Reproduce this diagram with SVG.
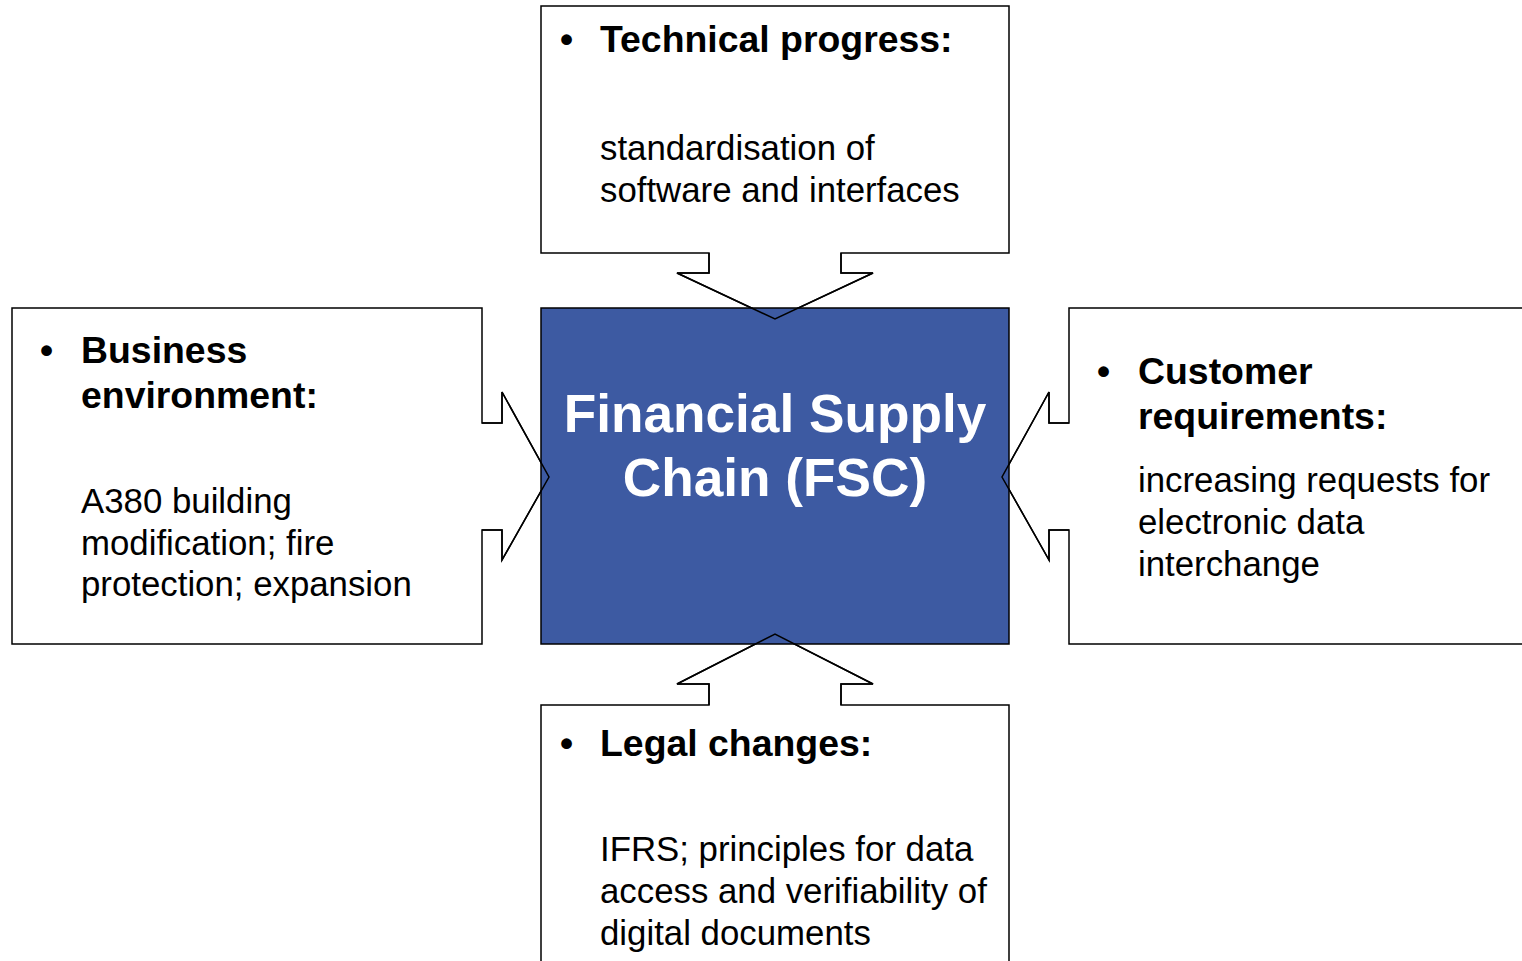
<svg xmlns="http://www.w3.org/2000/svg" width="1522" height="961" viewBox="0 0 1522 961">
<style>
.co{fill:#fff;stroke:#000;stroke-width:1.5}
.ol{fill:none;stroke:#000;stroke-width:1.5}
.h{font-family:"Liberation Sans",Arial,sans-serif;font-weight:bold;font-size:37.4px;fill:#000}
.t{font-family:"Liberation Sans",Arial,sans-serif;font-size:34.8px;fill:#000}
.c{font-family:"Liberation Sans",Arial,sans-serif;font-weight:bold;font-size:53.2px;fill:#fff;text-anchor:middle}
</style>
<rect width="1522" height="961" fill="#fff"/>
<g id="connectors">
<path id="arrowTop" class="co" d="M541,6 H1009 V253 H841 V273 H873 L775,319 L677,273 H709 V253 H541 Z"/>
<path id="arrowLeft" class="co" d="M12,308 H482 V423 H502 V392 L549,477 L502,560 V530 H482 V644 H12 Z"/>
<path id="arrowRight" class="co" d="M1069,308 H1530 V644 H1069 V530 H1049 V560 L1002,477 L1049,392 V423 H1069 Z"/>
<path id="arrowBottom" class="co" d="M541,970 V705 H709 V684 H677 L775,634 L873,684 H841 V705 H1009 V970"/>
</g>
<g id="center">
<rect x="541" y="308" width="468" height="336" fill="#3d5aa2" stroke="#000" stroke-width="1.5"/>
<text class="c" x="775" y="432">Financial Supply</text>
<text class="c" x="775" y="496">Chain (FSC)</text>
</g>
<g id="outlines">
<path class="ol" d="M709,253 V273 H677 L775,319 L873,273 H841 V253"/>
<path class="ol" d="M482,423 H502 V392 L549,477 L502,560 V530 H482"/>
<path class="ol" d="M1069,423 H1049 V392 L1002,477 L1049,560 V530 H1069"/>
<path class="ol" d="M709,705 V684 H677 L775,634 L873,684 H841 V705"/>
</g>
<g id="top">
<text class="h" x="560" y="52">•</text>
<text class="h" x="600" y="52">Technical progress:</text>
<text class="t" x="600" y="160">standardisation of</text>
<text class="t" x="600" y="202">software and interfaces</text>
</g>
<g id="left">
<text class="h" x="40" y="363">•</text>
<text class="h" x="81" y="363">Business</text>
<text class="h" x="81" y="408">environment:</text>
<text class="t" x="81" y="513">A380 building</text>
<text class="t" x="81" y="555">modification; fire</text>
<text class="t" x="81" y="596">protection; expansion</text>
</g>
<g id="right">
<text class="h" x="1097" y="384">•</text>
<text class="h" x="1138" y="384">Customer</text>
<text class="h" x="1138" y="429">requirements:</text>
<text class="t" x="1138" y="492">increasing requests for</text>
<text class="t" x="1138" y="534">electronic data</text>
<text class="t" x="1138" y="576">interchange</text>
</g>
<g id="bottom">
<text class="h" x="560" y="756">•</text>
<text class="h" x="600" y="756">Legal changes:</text>
<text class="t" x="600" y="861">IFRS; principles for data</text>
<text class="t" x="600" y="903">access and verifiability of</text>
<text class="t" x="600" y="945">digital documents</text>
</g>
</svg>
